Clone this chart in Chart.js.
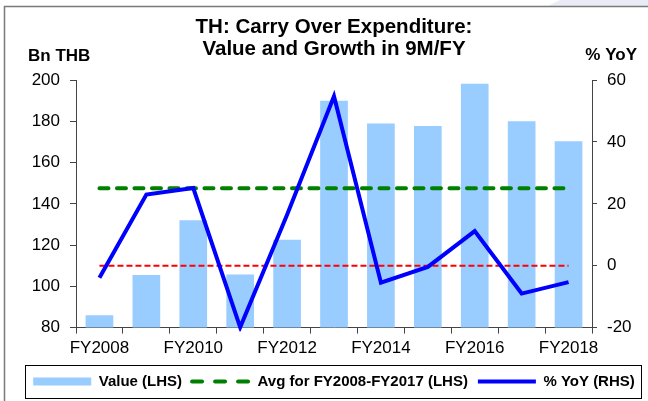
<!DOCTYPE html>
<html>
<head>
<meta charset="utf-8">
<script src="https://cdn.jsdelivr.net/npm/chart.js@4.4.1/dist/chart.umd.min.js"></script>
<style>
    html, body { margin: 0; padding: 0; background: #fff; }
    #wrap { width: 648px; height: 401px; position: relative; }
</style>
</head>
<body>
<div id="wrap"><canvas id="chart"></canvas></div>
<script>
// Values
const years = ['FY2008', 'FY2009', 'FY2010', 'FY2011', 'FY2012', 'FY2013',
               'FY2014', 'FY2015', 'FY2016', 'FY2017', 'FY2018'];
const valueBn = [86, 105.5, 132, 105.7, 122.6, 190, 179, 177.8, 198.2, 180, 170.4];
const avgBn = [147.6, 147.6, 147.6, 147.6, 147.6, 147.6, 147.6, 147.6, 147.6, 147.6, 147.6];
const yoyPct = [-3.9, 23, 25.1, -19.9, 16.5, 54.8, -5.5, -0.4, 11.2, -9, -5.3];
const zeroPct = [0, 0, 0, 0, 0, 0, 0, 0, 0, 0, 0];
const leftTicks = [80, 200];
const rightTicks = [-20, 60];

const FONT = "'Liberation Sans', Arial, sans-serif";
const AXIS = '#444';

// Frame, unit labels and legend border
const decorations = {
    id: 'decorations',
    beforeDraw(chart) {
        const ctx = chart.ctx;
        ctx.save();
        ctx.fillStyle = '#e9ecf6';
        ctx.beginPath();
        ctx.moveTo(560, 0); ctx.lineTo(648, 0); ctx.lineTo(648, 6); ctx.lineTo(548, 6);
        ctx.closePath();
        ctx.fill();
        ctx.strokeStyle = '#7a7a7a';
        ctx.lineWidth = 1.5;
        ctx.beginPath();
        ctx.moveTo(4.5, 401); ctx.lineTo(4.5, 6.5); ctx.lineTo(648, 6.5);
        ctx.stroke();
        ctx.restore();
    },
    afterDraw(chart) {
        const ctx = chart.ctx;
        ctx.save();
        ctx.fillStyle = '#000';
        ctx.font = 'bold 17px ' + FONT;
        ctx.textBaseline = 'middle';
        ctx.textAlign = 'left';
        ctx.fillText('Bn THB', 28, 56);
        ctx.textAlign = 'right';
        ctx.fillText('% YoY', 637, 55);

        const boxes = chart.legend.legendHitBoxes;
        if (boxes.length) {
            const mid = boxes[0].top + boxes[0].height / 2;
            ctx.strokeStyle = '#000';
            ctx.lineWidth = 1;
            ctx.strokeRect(25.5, Math.round(mid - 17) + 0.5, 616, 33);
        }
        ctx.restore();
    }
};

new Chart(document.getElementById('chart'), {
    data: {
        labels: years,
        datasets: [
            {
                type: 'bar',
                label: 'Value (LHS)',
                data: valueBn,
                yAxisID: 'y',
                backgroundColor: '#99ccff',
                borderWidth: 0,
                barPercentage: 0.59,
                categoryPercentage: 1,
                pointStyle: 'rect',
                order: 3
            },
            {
                type: 'line',
                label: 'Avg for FY2008-FY2017 (LHS)',
                data: avgBn,
                yAxisID: 'y',
                borderColor: '#008000',
                backgroundColor: '#008000',
                borderWidth: 4,
                borderDash: [9, 8.5],
                borderCapStyle: 'round',
                pointRadius: 0,
                pointStyle: 'line',
                fill: false,
                order: 1
            },
            {
                type: 'line',
                label: '',
                data: zeroPct,
                yAxisID: 'y1',
                borderColor: '#ff0000',
                borderWidth: 1.8,
                borderDash: [6, 3],
                pointRadius: 0,
                fill: false,
                order: 2
            },
            {
                type: 'line',
                label: '% YoY (RHS)',
                data: yoyPct,
                yAxisID: 'y1',
                borderColor: '#0000ff',
                backgroundColor: '#0000ff',
                borderWidth: 4,
                tension: 0,
                pointRadius: 0,
                pointStyle: 'line',
                fill: false,
                clip: 4,
                order: 0
            }
        ]
    },
    options: {
        responsive: true,
        maintainAspectRatio: false,
        animation: false,
        layout: { padding: { left: 20, right: 0, top: 0, bottom: 2 } },
        plugins: {
            title: {
                display: true,
                text: ['TH: Carry Over Expenditure:', 'Value and Growth in 9M/FY'],
                color: '#000',
                font: { family: FONT, size: 20.5, weight: 'bold', lineHeight: 1.1 },
                padding: { top: 16, bottom: 19 }
            },
            legend: {
                position: 'bottom',
                labels: {
                    usePointStyle: true,
                    pointStyleWidth: 58,
                    boxWidth: 58,
                    boxHeight: 8,
                    padding: 10,
                    color: '#000',
                    font: { family: FONT, size: 15, weight: 'bold' },
                    generateLabels: chart => {
                        const items = Chart.defaults.plugins.legend.labels.generateLabels(chart);
                        items.forEach(item => {
                            const ds = chart.data.datasets[item.datasetIndex];
                            if (ds.type === 'line') {
                                item.lineWidth = ds.borderWidth;
                                item.strokeStyle = ds.borderColor;
                                item.lineDash = ds.borderDash ? [10, 13] : [];
                                item.lineCap = ds.borderDash ? 'round' : 'butt';
                            }
                        });
                        return items;
                    },
                    filter: item => item.text !== '',
                    sort: (a, b) => a.datasetIndex - b.datasetIndex
                }
            },
            tooltip: { enabled: false }
        },
        scales: {
            x: {
                offset: true,
                grid: { offset: true, drawOnChartArea: false, tickLength: 6, color: AXIS },
                border: { color: AXIS },
                ticks: {
                    autoSkip: false,
                    maxRotation: 0,
                    padding: 5,
                    color: '#000',
                    font: { family: FONT, size: 17 },
                    callback: function (value, index) {
                        return index % 2 === 0 ? this.getLabelForValue(value) : '';
                    }
                }
            },
            y: {
                position: 'left',
                min: leftTicks[0],
                max: leftTicks[1],
                grid: { drawOnChartArea: false, tickLength: 6, color: AXIS },
                border: { color: AXIS },
                ticks: { stepSize: 20, padding: 10, color: '#000', font: { family: FONT, size: 17 } },
                afterFit: scale => { scale.width = 56; }
            },
            y1: {
                position: 'right',
                min: rightTicks[0],
                max: rightTicks[1],
                grid: { drawOnChartArea: false, tickLength: 5, color: AXIS },
                border: { color: AXIS },
                ticks: { stepSize: 20, padding: 10, color: '#000', font: { family: FONT, size: 17 } },
                afterFit: scale => { scale.width = 56; }
            }
        }
    },
    plugins: [decorations]
});
</script>
</body>
</html>
